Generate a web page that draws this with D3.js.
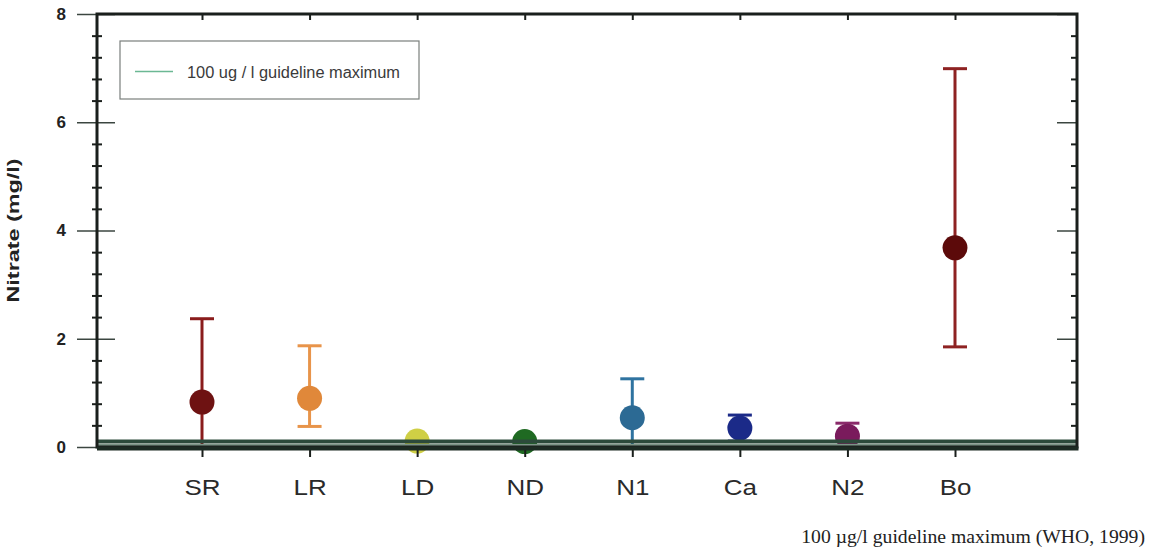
<!DOCTYPE html>
<html>
<head>
<meta charset="utf-8">
<script src="https://cdn.jsdelivr.net/npm/d3@7"></script>
<style>
  html, body { margin: 0; padding: 0; background: #fff; }
  svg { display: block; }
</style>
</head>
<body>
<svg id="chart" width="1159" height="558"></svg>
<script>
// Nitrate concentration by site: mean with error range
const sites = ["SR", "LR", "LD", "ND", "N1", "Ca", "N2", "Bo"];
const means = [0.83, 0.90, 0.11, 0.10, 0.54, 0.35, 0.20, 3.68];
const upper = [2.37, 1.87, 0.11, 0.10, 1.26, 0.59, 0.44, 6.99];
const lower = [0.00, 0.38, 0.11, 0.10, 0.00, 0.11, 0.00, 1.85];
const colors = ["#6e1212", "#e0883a", "#cfcf45", "#1f6a22", "#2c6a94", "#1b2a88", "#7a1b5c", "#5c0a0a"];
const barColors = ["#8a1c1c", "#e8944a", "#cfcf45", "#1f6a22", "#2f73a0", "#1b2a88", "#8a2a6a", "#8e2222"];
const yMajorTicks = [0, 2, 4, 6, 8];
const guideline = 0.1; // 100 ug/l
const legendLabel = "100 ug / l guideline maximum";
const footnote = "100 \u00b5g/l guideline maximum (WHO, 1999)";

const svg = d3.select("#chart");
const plot = { left: 97, top: 14, right: 1077, bottom: 447 };
const sans = "Liberation Sans, Arial, Helvetica, sans-serif";

const y = d3.scaleLinear().domain([0, 8]).range([plot.bottom, plot.top]);
const x = d3.scalePoint().domain(sites).range([plot.left + 105, plot.right - 122]);

const minorTicks = d3.range(0, 8.001, 0.4).map(v => +v.toFixed(1)).filter(v => !yMajorTicks.includes(v));
const ink = "#1a1f1c";

// error bars and means
const marks = svg.append("g");
sites.forEach((s, i) => {
  const cx = x(s);
  if (upper[i] !== lower[i]) {
    marks.append("line").attr("x1", cx).attr("x2", cx)
      .attr("y1", y(upper[i])).attr("y2", y(lower[i]))
      .attr("stroke", barColors[i]).attr("stroke-width", 3);
    [upper[i], lower[i]].forEach(v => {
      marks.append("line").attr("x1", cx - 12).attr("x2", cx + 12)
        .attr("y1", y(v)).attr("y2", y(v))
        .attr("stroke", barColors[i]).attr("stroke-width", 3);
    });
  }
  marks.append("circle").attr("cx", cx).attr("cy", y(means[i])).attr("r", 12.5)
    .attr("fill", colors[i]);
});

// guideline band near the baseline
svg.append("line")
  .attr("x1", plot.left).attr("x2", plot.right)
  .attr("y1", y(guideline)).attr("y2", y(guideline))
  .attr("stroke", "#2c4a3b").attr("stroke-width", 4);
svg.append("line")
  .attr("x1", plot.left).attr("x2", plot.right)
  .attr("y1", y(guideline) + 3.5).attr("y2", y(guideline) + 3.5)
  .attr("stroke", "#7b9486").attr("stroke-width", 2);

// left axis: labelled majors outside, majors/minors inside
const leftOut = svg.append("g").attr("transform", `translate(${plot.left},0)`)
  .call(d3.axisLeft(y).tickValues(yMajorTicks).tickSize(20).tickPadding(11).tickFormat(d3.format("d")));
leftOut.select(".domain").remove();
leftOut.selectAll("line").attr("stroke", "#3b4640").attr("stroke-width", 1.5);
leftOut.selectAll("text")
  .attr("font-family", sans)
  .attr("font-size", 17).attr("font-weight", "bold").attr("fill", "#222");

const leftIn = svg.append("g").attr("transform", `translate(${plot.left},0)`)
  .call(d3.axisRight(y).tickValues(yMajorTicks).tickSize(18).tickFormat(""));
leftIn.select(".domain").remove();
leftIn.selectAll("line").attr("stroke", "#3b4640").attr("stroke-width", 1.5);

[d3.axisLeft, d3.axisRight].forEach(ax => {
  const m = svg.append("g").attr("transform", `translate(${plot.left},0)`)
    .call(ax(y).tickValues(minorTicks).tickSize(5).tickFormat(""));
  m.select(".domain").remove();
  m.selectAll("line").attr("stroke", ink).attr("stroke-width", 2);
});

// right axis: ticks pointing inward
const rightMaj = svg.append("g").attr("transform", `translate(${plot.right},0)`)
  .call(d3.axisLeft(y).tickValues(yMajorTicks).tickSize(20).tickFormat(""));
rightMaj.select(".domain").remove();
rightMaj.selectAll("line").attr("stroke", "#3b4640").attr("stroke-width", 1.5);
const rightMin = svg.append("g").attr("transform", `translate(${plot.right},0)`)
  .call(d3.axisLeft(y).tickValues(minorTicks).tickSize(6).tickFormat(""));
rightMin.select(".domain").remove();
rightMin.selectAll("line").attr("stroke", ink).attr("stroke-width", 2);

// top axis: category ticks pointing down
const topAxis = svg.append("g").attr("transform", `translate(0,${plot.top})`)
  .call(d3.axisBottom(x).tickSize(6).tickFormat(""));
topAxis.select(".domain").remove();
topAxis.selectAll("line").attr("stroke", ink).attr("stroke-width", 2);

// bottom axis: category labels
const bottomAxis = svg.append("g").attr("transform", `translate(0,${plot.bottom})`)
  .call(d3.axisBottom(x).tickSize(10).tickPadding(22));
bottomAxis.select(".domain").remove();
bottomAxis.selectAll("line").attr("stroke", ink).attr("stroke-width", 2);
bottomAxis.selectAll("text")
  .attr("font-family", sans)
  .attr("font-size", 22).attr("fill", "#2a2a2a")
  .attr("transform", "scale(1.18,1)");

// frame
svg.append("rect")
  .attr("x", plot.left).attr("y", plot.top)
  .attr("width", plot.right - plot.left).attr("height", plot.bottom - plot.top)
  .attr("fill", "none").attr("stroke", ink).attr("stroke-width", 3);
svg.append("line")
  .attr("x1", plot.left).attr("x2", plot.right + 1.5)
  .attr("y1", y(0) + 1.5).attr("y2", y(0) + 1.5)
  .attr("stroke", "#1c2b23").attr("stroke-width", 4);

// legend
const lg = svg.append("g");
lg.append("rect").attr("x", 120).attr("y", 41).attr("width", 299).attr("height", 58)
  .attr("fill", "#fff").attr("stroke", "#7a7f7c").attr("stroke-width", 1.2);
lg.append("line").attr("x1", 135).attr("x2", 173).attr("y1", 71.5).attr("y2", 71.5)
  .attr("stroke", "#6bb894").attr("stroke-width", 1.5);
lg.append("text").attr("x", 187).attr("y", 77.5)
  .attr("font-family", sans)
  .attr("font-size", 16).attr("fill", "#3a3a3a")
  .attr("textLength", 213).attr("lengthAdjust", "spacingAndGlyphs")
  .text(legendLabel);

// y-axis title
svg.append("text")
  .attr("transform", `translate(19,${(plot.top + plot.bottom) / 2}) rotate(-90)`)
  .attr("text-anchor", "middle")
  .attr("font-family", sans)
  .attr("font-size", 16).attr("font-weight", "bold").attr("fill", "#222")
  .attr("textLength", 144).attr("lengthAdjust", "spacingAndGlyphs")
  .text("Nitrate (mg/l)");

// footnote
svg.append("text")
  .attr("x", 1145).attr("y", 543).attr("text-anchor", "end")
  .attr("font-family", "Liberation Serif, Times New Roman, serif")
  .attr("font-size", 19.7).attr("fill", "#222")
  .text(footnote);
</script>
</body>
</html>
